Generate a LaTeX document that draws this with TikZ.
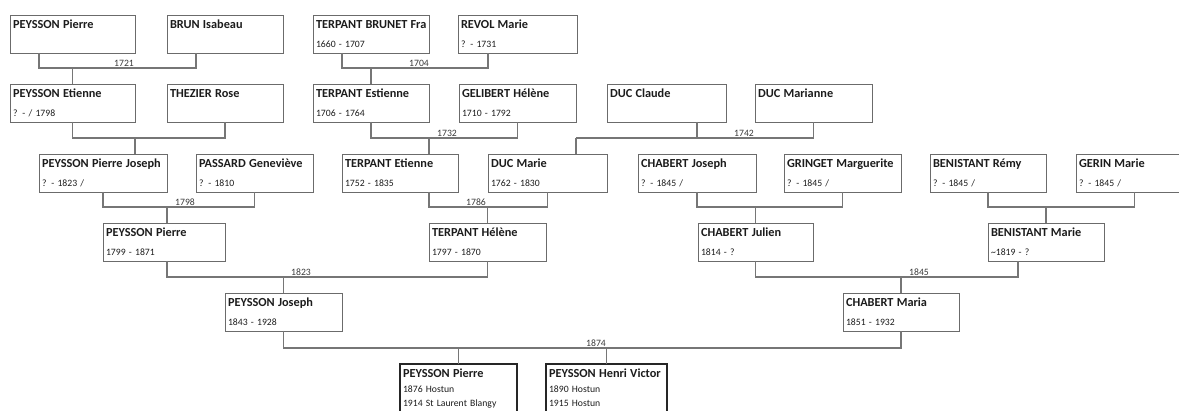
\documentclass[tikz,border=0pt]{standalone}
\usepackage{fontspec}
\setmainfont{Carlito}
\usepackage{xcolor}
\usepackage{tikz}
\usetikzlibrary{positioning}
\definecolor{boxgrey}{HTML}{6B6B6B}
\definecolor{linkgrey}{HTML}{767676}
\definecolor{ink}{HTML}{1C1C1C}
\definecolor{yeargrey}{HTML}{3A3A3A}
\newcommand{\pname}[1]{\mbox{\fontsize{12.3}{14}\selectfont\bfseries #1}}
\tikzset{
  person/.style={rectangle, draw=boxgrey, line width=0.9pt, anchor=north west,
                 text width=#1-6pt, inner xsep=3pt, inner ysep=0pt, outer sep=0pt,
                 text height=14pt, text depth=24pt, align=left, text=ink,
                 font=\fontsize{9.7}{19}\selectfont},
  person/.default=117pt,
  lastgen/.style={person=#1, draw=black!85, line width=1.6pt, text depth=60pt,
                  font=\fontsize{9.7}{14.5}\selectfont},
  link/.style={draw=linkgrey, line width=1.2pt},
  yr/.style={anchor=south, inner sep=1pt, text=yeargrey,
             font=\fontsize{9.7}{11}\selectfont},
}

\begin{document}
\begin{tikzpicture}[x=1pt, y=-1pt]
  \fill[white] (0,0) rectangle (1179,411);
  \clip (0,0) rectangle (1179,411);

  % generation 1
  \node[person=125pt] (pp1) at (10,15) {\pname{PEYSSON Pierre}};
  \node[person=116pt] (bi) at (167,15) {\pname{BRUN Isabeau}};
  \node[person=116pt] (tbf) at (313,15) {\pname{TERPANT BRUNET Fra}\\1660 - 1707};
  \node[person=119pt] (rm) at (458,15) {\pname{REVOL Marie}\\? - 1731};

  % generation 2
  \node[person=125pt] (pe) at (10,84) {\pname{PEYSSON Etienne}\\? - / 1798};
  \node[person=116pt] (tr) at (167,84) {\pname{THEZIER Rose}};
  \node[person=116pt] (tes) at (313,84) {\pname{TERPANT Estienne}\\1706 - 1764};
  \node[person=117pt] (gh) at (459,84) {\pname{GELIBERT Hélène}\\1710 - 1792};
  \node[person=119pt] (dc) at (607,84) {\pname{DUC Claude}};
  \node[person=117pt] (dma) at (755,84) {\pname{DUC Marianne}};

  % generation 3
  \node[person=128pt] (ppj) at (39,154) {\pname{PEYSSON Pierre Joseph}\\? - 1823 /};
  \node[person=117pt] (pg) at (196,154) {\pname{PASSARD Geneviève}\\? - 1810};
  \node[person=116pt] (tet) at (342,154) {\pname{TERPANT Etienne}\\1752 - 1835};
  \node[person=119pt] (dm) at (488,154) {\pname{DUC Marie}\\1762 - 1830};
  \node[person=118pt] (cj) at (638,154) {\pname{CHABERT Joseph}\\? - 1845 /};
  \node[person=117pt] (gm) at (784,154) {\pname{GRINGET Marguerite}\\? - 1845 /};
  \node[person=116pt] (br) at (930,154) {\pname{BENISTANT Rémy}\\? - 1845 /};
  \node[person=117pt] (gmr) at (1076,154) {\pname{GERIN Marie}\\? - 1845 /};

  % generation 4
  \node[person=122pt] (pp2) at (103,223) {\pname{PEYSSON Pierre}\\1799 - 1871};
  \node[person=117pt] (th) at (429,223) {\pname{TERPANT Hélène}\\1797 - 1870};
  \node[person=115pt] (cju) at (698,223) {\pname{CHABERT Julien}\\1814 - ?};
  \node[person=116pt] (bm) at (988,223) {\pname{BENISTANT Marie}\\\textasciitilde 1819 - ?};

  % generation 5
  \node[person=117pt] (pj) at (225,293) {\pname{PEYSSON Joseph}\\1843 - 1928};
  \node[person=116pt] (cm) at (843,293) {\pname{CHABERT Maria}\\1851 - 1932};

  % generation 6
  \node[lastgen=117pt] (pp3) at (400,364) {\pname{PEYSSON Pierre}\\1876 Hostun\\1914 St Laurent Blangy};
  \node[lastgen=121pt] (phv) at (546,364) {\pname{PEYSSON Henri Victor}\\1890 Hostun\\1915 Hostun};

  % marriages
  \coordinate[above=16pt of pe.north] (f1);
  \draw[link] ([xshift=29pt]pp1.south west) |- (f1) -| ([xshift=29pt]bi.south west);
  \draw[link] (f1) -- (pe.north);
  \node[yr] (y1721) at (124,68) {1721};

  \coordinate[above=16pt of tes.north] (f2);
  \draw[link] ([xshift=29pt]tbf.south west) |- (f2) -| ([xshift=30pt]rm.south west);
  \draw[link] (f2) -- (tes.north);
  \node[yr] (y1704) at (419,68) {1704};

  \coordinate (f3) at ([xshift=96pt,yshift=16pt]ppj.north west);
  \draw[link] (pe.south) |- (f3) -| (tr.south);
  \draw[link] (f3) -- ([xshift=96pt]ppj.north west);

  \coordinate (f4) at ([xshift=87pt,yshift=16pt]tet.north west);
  \draw[link] (tes.south) |- (f4) -| (gh.south);
  \draw[link] (f4) -- ([xshift=87pt]tet.north west);
  \node[yr] (y1732) at (447,138) {1732};

  \coordinate (f5) at ([xshift=88pt,yshift=16pt]dm.north west);
  \draw[link] ([xshift=90pt]dc.south west) |- (f5) -| (dma.south);
  \draw[link] (f5) -- ([xshift=88pt]dm.north west);
  \node[yr] (y1742) at (744,138) {1742};

  \coordinate (f6) at ([xshift=64pt,yshift=16pt]pp2.north west);
  \draw[link] (ppj.south) |- (f6) -| (pg.south);
  \draw[link] (f6) -- ([xshift=64pt]pp2.north west);
  \node[yr] (y1798) at (185,207) {1798};

  \coordinate[above=16pt of th.north] (f7);
  \draw[link] ([xshift=87pt]tet.south west) |- (f7) -| (dm.south);
  \draw[link] (f7) -- (th.north);
  \node[yr] (y1786) at (476,207) {1786};

  \coordinate[above=16pt of cju.north] (f8);
  \draw[link] (cj.south) |- (f8) -| (gm.south);
  \draw[link] (f8) -- (cju.north);

  \coordinate[above=16pt of bm.north] (f9);
  \draw[link] (br.south) |- (f9) -| (gmr.south);
  \draw[link] (f9) -- (bm.north);

  \coordinate[above=16pt of pj.north] (f10);
  \draw[link] ([xshift=64pt]pp2.south west) |- (f10) -| (th.south);
  \draw[link] (f10) -- (pj.north);
  \node[yr] (y1823) at (301,277) {1823};

  \coordinate[above=16pt of cm.north] (f11);
  \draw[link] (cju.south) |- (f11) -| ([xshift=30pt]bm.south west);
  \draw[link] (f11) -- (cm.north);
  \node[yr] (y1845) at (919,277) {1845};

  \coordinate[above=16pt of pp3.north] (f12);
  \draw[link] (pj.south) |- (f12) -| (cm.south);
  \draw[link] (f12) -- (pp3.north);
  \draw[link] (phv.north) |- (f12);
  \node[yr] (y1874) at (596,348) {1874};
\end{tikzpicture}
\end{document}
